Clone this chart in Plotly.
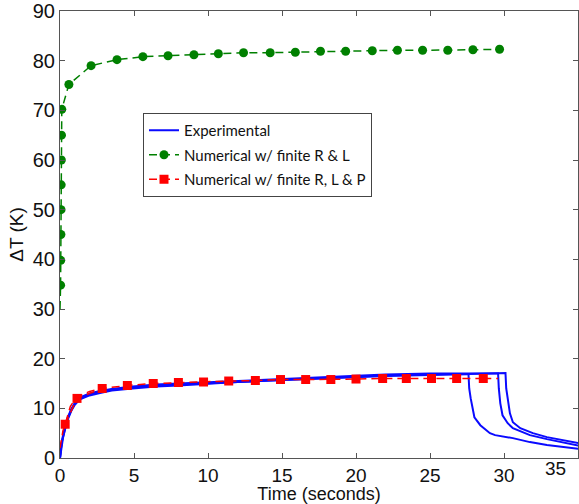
import plotly.graph_objects as go

# ---------------- data ----------------
# Experimental runs (three repeats)
exp1_t = [0, 0.05, 0.1, 0.2, 0.3, 0.5, 0.75, 1, 1.35, 2, 2.7, 3.5, 4.9, 6.5, 8, 9.5, 12, 15, 18, 20, 22, 25,
          27.6, 27.65, 27.75, 28.0, 28.4, 29.05, 29.4, 30.6, 31.75, 32.9, 35.2]
exp1_T = [0, 1.5, 2.8, 4.2, 5.5, 7.8, 9.6, 10.9, 12.0, 12.8, 13.3, 13.8, 14.2, 14.6, 14.8, 15.0, 15.4, 15.8, 16.2, 16.4, 16.6, 16.8,
          16.9, 14.0, 12.0, 8.2, 6.6, 5.0, 4.6, 4.0, 3.2, 2.6, 1.8]
exp2_t = [0, 0.05, 0.1, 0.2, 0.3, 0.5, 0.75, 1, 1.35, 2, 2.7, 3.5, 4.9, 6.5, 8, 9.5, 12, 15, 18, 20, 22, 25, 27.5,
          29.6, 29.65, 29.75, 29.9, 30.25, 30.6, 31.75, 32.9, 35.2]
exp2_T = [0, 1.7, 3.0, 4.5, 5.8, 8.0, 9.8, 11.1, 12.2, 13.0, 13.5, 13.9, 14.4, 14.8, 15.0, 15.2, 15.6, 16.0, 16.4, 16.6, 16.8, 17.0, 17.0,
          17.0, 14.0, 11.0, 8.6, 7.0, 6.0, 4.6, 3.8, 2.4]
exp3_t = [0, 0.05, 0.1, 0.2, 0.3, 0.5, 0.75, 1, 1.35, 2, 2.7, 3.5, 4.9, 6.5, 8, 9.5, 12, 15, 18, 20, 22, 25, 27.5,
          30.1, 30.15, 30.25, 30.4, 30.6, 31.1, 31.95, 32.9, 35.2]
exp3_T = [0, 1.3, 2.6, 4.0, 5.3, 7.6, 9.4, 10.7, 11.8, 12.6, 13.1, 13.6, 14.0, 14.4, 14.6, 14.9, 15.3, 15.7, 16.1, 16.3, 16.5, 16.7, 16.9,
          17.1, 14.0, 11.6, 9.0, 7.2, 6.0, 5.0, 4.2, 2.9]

# Numerical w/ finite R & L (marker points)
numRL_t = [0.04, 0.05, 0.06, 0.07, 0.08, 0.09, 0.1, 0.12, 0.6, 2.1, 3.85, 5.6, 7.3, 9.05, 10.7, 12.4, 14.2,
           15.9, 17.6, 19.3, 21.1, 22.8, 24.5, 26.2, 27.9, 29.7]
numRL_T = [34.8, 39.8, 45.0, 50.0, 55.0, 60.0, 65.0, 70.2, 75.2, 79.0, 80.2, 80.8, 81.0, 81.2, 81.4, 81.6, 81.6,
           81.7, 81.9, 81.9, 82.0, 82.1, 82.1, 82.1, 82.2, 82.3]
# start of the R & L line (no markers)
numRL_start_t = [0.0, 0.02, 0.04]
numRL_start_T = [30.0, 32.0, 34.8]

# Numerical w/ finite R, L & P (marker points)
numRLP_t = [0.35, 1.15, 2.85, 4.55, 6.3, 8.0, 9.7, 11.4, 13.2, 14.9, 16.6, 18.3, 20.0, 21.8, 23.4, 25.1, 26.8, 28.6]
numRLP_T = [6.8, 12.0, 14.0, 14.6, 15.0, 15.2, 15.3, 15.5, 15.6, 15.8, 15.8, 15.8, 15.9, 16.0, 16.0, 16.0, 16.0, 16.0]
# early part and tail of the R, L & P line (no markers)
numRLP_line_t = [0, 0.1, 0.2, 0.35, 0.5, 0.7, 0.9, 1.15, 1.5, 2.0, 2.85]
numRLP_line_T = [2.0, 4.0, 5.5, 6.8, 8.6, 10.4, 11.3, 12.0, 12.8, 13.4, 14.0]
numRLP_tail_t = [28.6, 29.6]
numRLP_tail_T = [16.0, 16.0]

x_ticks = [0, 5, 10, 15, 20, 25, 30, 35]
x_ticktext = ["0", "5", "10", "15", "20", "25", "30", ""]
y_ticks = [0, 10, 20, 30, 40, 50, 60, 70, 80, 90]

BLUE = "#0a0aff"
GREEN = "#008000"
RED = "#ff0000"
DASH = "8px,5px"
FONT = "Liberation Sans, Arial"
TXT = "#111111"

fig = go.Figure()

for i, (tt, TT) in enumerate([(exp1_t, exp1_T), (exp2_t, exp2_T), (exp3_t, exp3_T)]):
    fig.add_trace(go.Scatter(
        x=tt, y=TT, mode="lines", name="Experimental",
        line=dict(color=BLUE, width=2),
        showlegend=(i == 0), legendgroup="a"))

fig.add_trace(go.Scatter(
    x=numRL_start_t, y=numRL_start_T, mode="lines", showlegend=False,
    line=dict(color=GREEN, width=1.5, dash=DASH), legendgroup="b"))
fig.add_trace(go.Scatter(
    x=numRL_t, y=numRL_T, mode="lines+markers", name="Numerical w/ finite R & L",
    line=dict(color=GREEN, width=1.5, dash=DASH),
    marker=dict(symbol="circle", size=9, color=GREEN), legendgroup="b"))

fig.add_trace(go.Scatter(
    x=numRLP_line_t, y=numRLP_line_T, mode="lines", showlegend=False,
    line=dict(color=RED, width=1.5, dash=DASH), legendgroup="c"))
fig.add_trace(go.Scatter(
    x=numRLP_tail_t, y=numRLP_tail_T, mode="lines", showlegend=False,
    line=dict(color=RED, width=1.5, dash=DASH), legendgroup="c"))
fig.add_trace(go.Scatter(
    x=numRLP_t, y=numRLP_T, mode="lines+markers", name="Numerical w/ finite R, L & P",
    line=dict(color=RED, width=1.5, dash=DASH),
    marker=dict(symbol="square", size=9, color=RED), legendgroup="c"))

axis_common = dict(
    showgrid=False, zeroline=False, showline=True, mirror="ticks",
    linecolor="#555555", linewidth=1, ticks="inside", ticklen=5,
    tickcolor="#555555",
    automargin=False, ticklabeloverflow="allow",
)

fig.update_xaxes(range=[0, 35], tickvals=x_ticks, ticktext=x_ticktext,
                 tickfont=dict(family=FONT, size=19, color=TXT),
                 title=dict(text="Time (seconds)", font=dict(family=FONT, size=18, color=TXT), standoff=0),
                 ticklabelstandoff=0,
                 **axis_common)
fig.update_yaxes(range=[0, 90], tickvals=y_ticks,
                 tickfont=dict(family=FONT, size=20, color=TXT),
                 title=dict(text="ΔT (K)", font=dict(family=FONT, size=19, color=TXT), standoff=4),
                 **axis_common)

L, R, T, B = 60, 1, 11, 46
plot_w = 579 - L - R
plot_h = 504 - T - B
fig.add_annotation(text="35", x=(568 - L) / plot_w, y=-(469 - (504 - B)) / plot_h,
                   xref="paper", yref="paper", showarrow=False, yanchor="middle",
                   font=dict(family=FONT, size=19, color=TXT))

fig.update_layout(
    width=579, height=504,
    margin=dict(l=L, r=R, t=T, b=B),
    plot_bgcolor="white", paper_bgcolor="white",
    legend=dict(x=(143 - L) / plot_w, y=((504 - B) - 113) / plot_h, xanchor="left", yanchor="top",
                bgcolor="white", bordercolor="#444444", borderwidth=1,
                font=dict(family="Lato", size=15, color=TXT),
                traceorder="grouped", tracegroupgap=2),
)

fig.write_html("out.html", config={"displayModeBar": False},
               post_script="document.body.style.margin='0px';document.body.style.padding='0px';")
